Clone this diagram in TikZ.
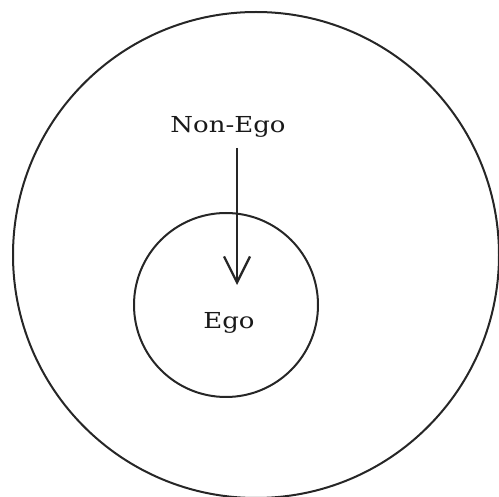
\documentclass[tikz,border=0pt]{standalone}
\usepackage{fontspec}
\newfontfamily\labelfont[FakeStretch=1.18]{DejaVu Serif}
\usetikzlibrary{arrows.meta}

\begin{document}
\begin{tikzpicture}[x=1pt,y=-1pt]
\tikzstyle{ring}=[draw=black!85, line width=2pt, shape=circle, inner sep=0pt];
\tikzstyle{word}=[font=\labelfont\fontsize{22}{22}\selectfont, text=black!90, inner sep=0pt, anchor=base];

\useasboundingbox (0,0) rectangle (499,497);

\draw (256,255) node[ring, minimum size=486pt] (outer) {};
\draw (226,305) node[ring, minimum size=184pt] (inner) {};

\draw (228,133) node[word] (nonego) {Non-Ego};
\draw (229,329) node[word] (ego) {Ego};

\coordinate (from) at (237,148);
\coordinate (to) at (237,285);
\draw[-{Straight Barb[length=26pt,width=26pt]}, line width=2.3pt, black!85] (from) -- (to);

\end{tikzpicture}
\end{document}
